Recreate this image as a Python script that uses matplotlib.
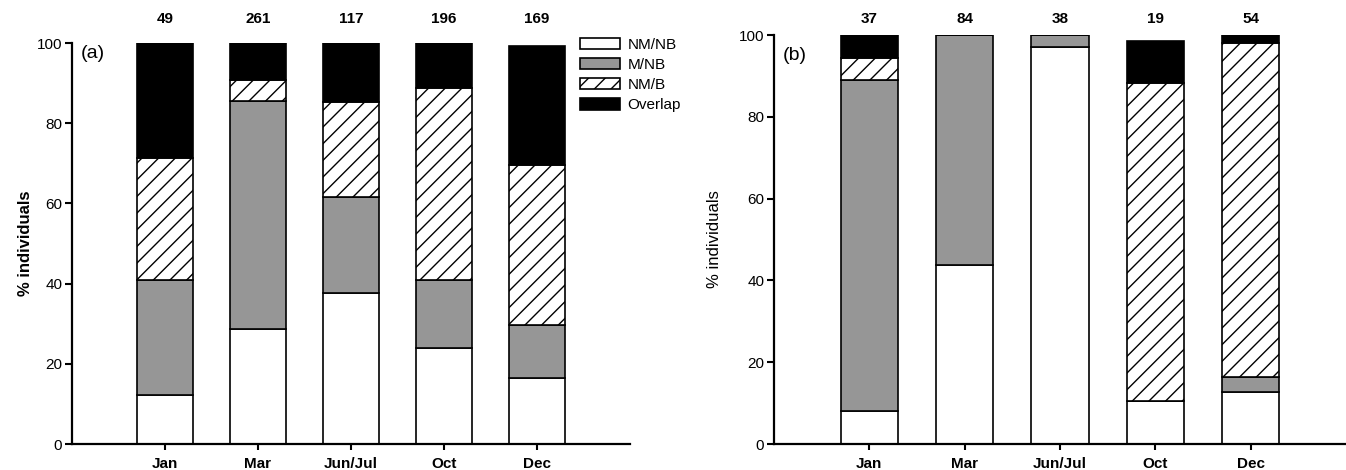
import numpy as np
import matplotlib
matplotlib.use('Agg')
import matplotlib.pyplot as plt

plt.rcParams['font.family'] = ['Liberation Sans', 'DejaVu Sans']
plt.rcParams['hatch.linewidth'] = 1.0

months = ['Jan', 'Mar', 'Jun/Jul', 'Oct', 'Dec']
groups = ['NM/NB', 'M/NB', 'NM/B', 'Overlap']

# panel (a) - percentages per group (stacked from bottom)
n_a = [49, 261, 117, 196, 169]
a_nmnb = [12.2, 28.8, 37.7, 23.9, 16.5]
a_mnb = [28.7, 56.7, 23.9, 16.9, 13.2]
a_nmb = [30.4, 5.2, 23.7, 48.0, 39.8]
a_overlap = [28.7, 9.3, 14.7, 11.2, 29.9]

# panel (b)
n_b = [37, 84, 38, 19, 54]
b_nmnb = [8.0, 43.9, 97.2, 10.4, 12.8]
b_mnb = [81.0, 56.1, 2.8, 0.0, 3.7]
b_nmb = [5.3, 0.0, 0.0, 78.0, 81.5]
b_overlap = [5.7, 0.0, 0.0, 10.1, 2.0]

styles = [dict(color='white'), dict(color='#969696'),
          dict(color='white', hatch='//'), dict(color='black')]

fig = plt.figure(figsize=(13.46, 4.7), dpi=100)
ax_a = fig.add_axes([0.0535, 0.0553, 0.4145, 0.853])
ax_b = fig.add_axes([0.575, 0.0553, 0.425, 0.870])


def draw(ax, series, counts, tag, label_weight, n_y, pad):
    x = np.arange(1, len(months) + 1)
    bottom = np.zeros(len(months))
    for vals, st, name in zip(series, styles, groups):
        ax.bar(x, vals, 0.6, bottom=bottom, edgecolor='black',
               linewidth=1.2, label=name, **st)
        bottom += np.array(vals)
    ax.set_xlim(0, 6)
    ax.set_ylim(0, 100)
    ax.set_yticks([0, 20, 40, 60, 80, 100])
    ax.set_xticks(x)
    ax.set_xticklabels(months, fontweight='bold', fontsize=11)
    ax.tick_params(axis='y', labelsize=11, length=5, width=1.5, pad=2)
    ax.tick_params(axis='x', length=4, width=1.5, pad=5)
    for s in ['top', 'right']:
        ax.spines[s].set_visible(False)
    for s in ['left', 'bottom']:
        ax.spines[s].set_linewidth(1.6)
    ax.set_ylabel('% individuals', fontsize=12, fontweight=label_weight,
                  labelpad=pad)
    ax.text(0.09, 100 - 2.5 if tag == '(a)' else 95, tag, fontsize=14,
            va='center', ha='left')
    for xi, n in zip(x, counts):
        ax.text(xi, n_y, str(n), ha='center', va='center',
                fontweight='bold', fontsize=11, clip_on=False)


draw(ax_a, [a_nmnb, a_mnb, a_nmb, a_overlap], n_a, '(a)', 'bold', 106.0, 3)
draw(ax_b, [b_nmnb, b_mnb, b_nmb, b_overlap], n_b, '(b)', 'normal', 104.0, 12)

ax_a.legend(loc='upper left', bbox_to_anchor=(580 / 1346, 1 - 38 / 470),
            bbox_transform=fig.transFigure, frameon=False, fontsize=11,
            handlelength=2.6, handleheight=0.75, handletextpad=0.5,
            labelspacing=0.4, borderpad=0, borderaxespad=0)

fig.savefig('out.png', dpi=100)
